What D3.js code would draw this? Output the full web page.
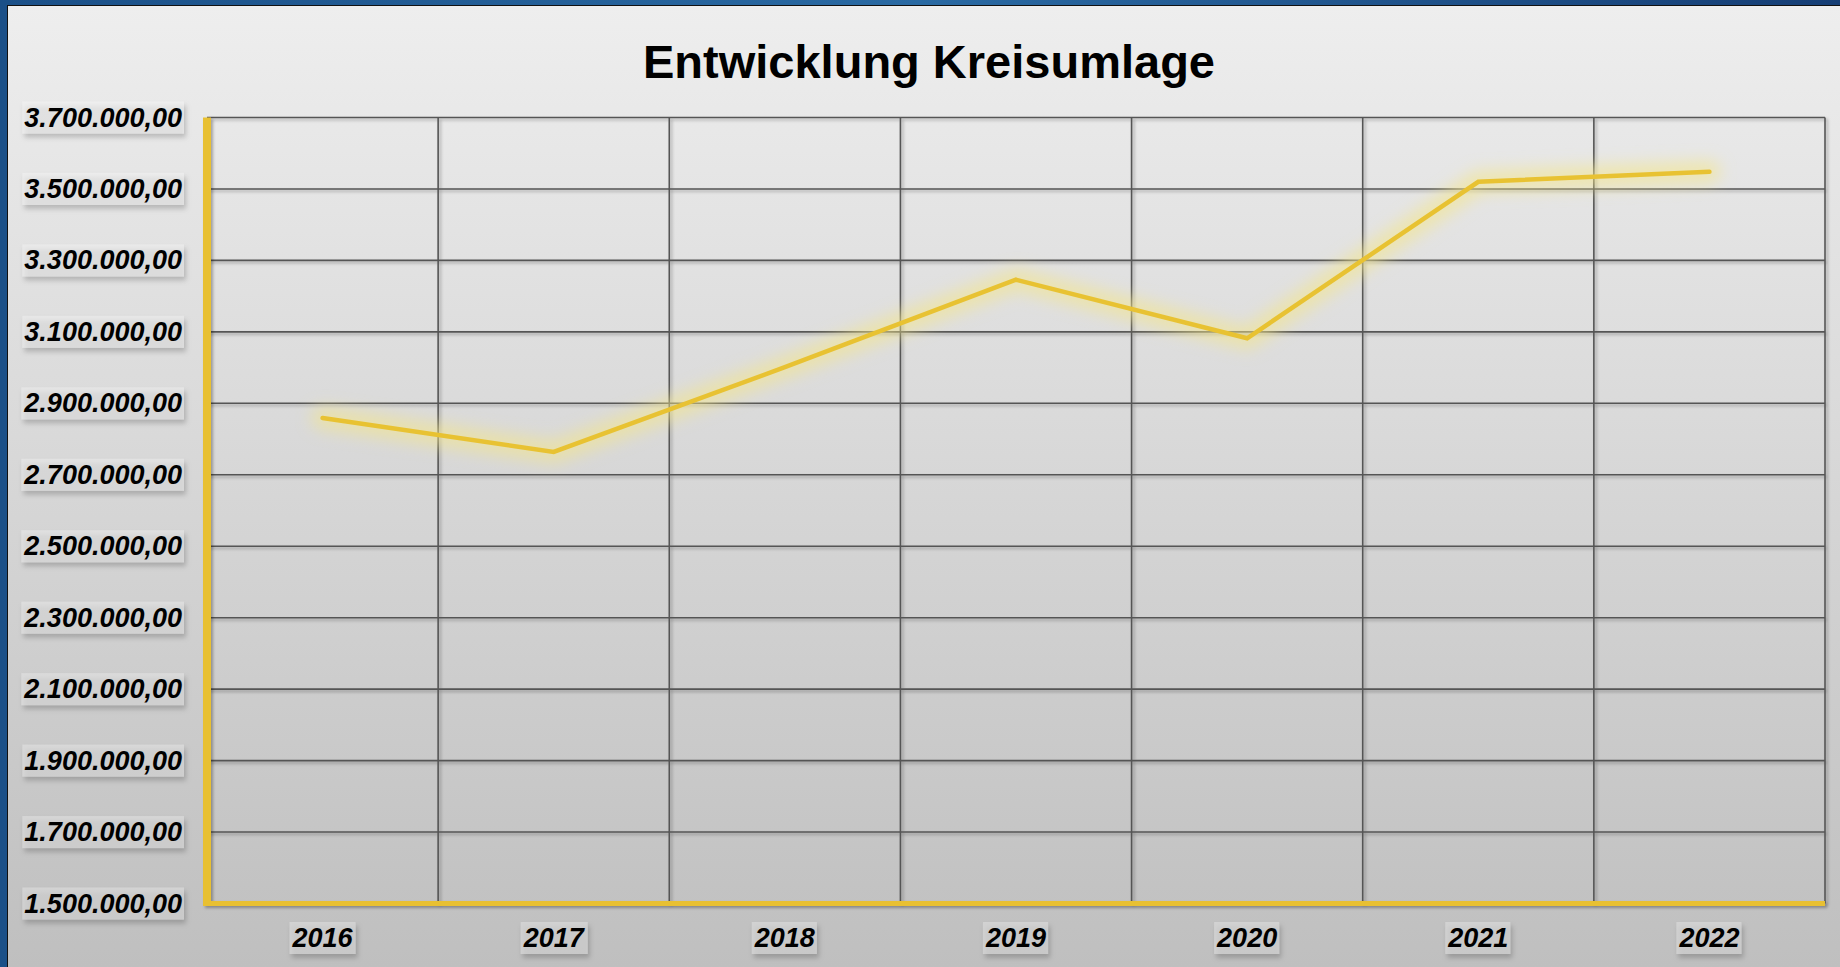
<!DOCTYPE html>
<html>
<head>
<meta charset="utf-8">
<script src="https://cdn.jsdelivr.net/npm/d3@7"></script>
<style>
  html, body { margin: 0; padding: 0; background: #1d5590; }
  svg { display: block; }
</style>
</head>
<body>
<div id="chart"></div>
<script>
// data
const years = ["2016", "2017", "2018", "2019", "2020", "2021", "2022"];
const kreisumlage = [2859000, 2764000, 3001000, 3246000, 3082000, 3520000, 3548000];
const yTicks = [1500000, 1700000, 1900000, 2100000, 2300000, 2500000, 2700000, 2900000, 3100000, 3300000, 3500000, 3700000];
const title = "Entwicklung Kreisumlage";

const width = 1840;
const height = 967;
const plot = { left: 207, right: 1825, top: 117.5, bottom: 903.5 };

const de = d3.formatLocale({ decimal: ",", thousands: ".", grouping: [3], currency: ["", " €"] });
const fmt = de.format(",.2f");

const svg = d3.select("#chart").append("svg")
  .attr("width", width)
  .attr("height", height);

const defs = svg.append("defs");

// frame gradient
const frameGrad = defs.append("linearGradient").attr("id", "frameGrad")
  .attr("x1", 0).attr("x2", 1).attr("y1", 0).attr("y2", 0);
frameGrad.append("stop").attr("offset", "0%").attr("stop-color", "#1b5088");
frameGrad.append("stop").attr("offset", "50%").attr("stop-color", "#2a6aa3");
frameGrad.append("stop").attr("offset", "100%").attr("stop-color", "#163e75");

const bgGrad = defs.append("linearGradient").attr("id", "bgGrad")
  .attr("x1", 0).attr("x2", 0).attr("y1", 0).attr("y2", 1);
bgGrad.append("stop").attr("offset", "0%").attr("stop-color", "#eeeeee");
bgGrad.append("stop").attr("offset", "100%").attr("stop-color", "#bfbfbf");

const shadow = defs.append("filter").attr("id", "shadow")
  .attr("x", "-20%").attr("y", "-40%").attr("width", "150%").attr("height", "200%");
shadow.append("feDropShadow")
  .attr("dx", 2).attr("dy", 4).attr("stdDeviation", 2.5)
  .attr("flood-color", "#000").attr("flood-opacity", 0.7);

const lineShadow = defs.append("filter").attr("id", "lineShadow")
  .attr("x", "-5%").attr("y", "-5%").attr("width", "110%").attr("height", "110%");
lineShadow.append("feDropShadow")
  .attr("dx", 2).attr("dy", 2).attr("stdDeviation", 1.5)
  .attr("flood-color", "#000").attr("flood-opacity", 0.3);

const glow = defs.append("filter").attr("id", "glow")
  .attr("x", "-10%").attr("y", "-30%").attr("width", "120%").attr("height", "160%");
glow.append("feGaussianBlur").attr("stdDeviation", 8);

// frame + panel
svg.append("rect").attr("width", width).attr("height", height).attr("fill", "url(#frameGrad)");
svg.append("rect").attr("x", 7).attr("y", 5).attr("width", width - 7).attr("height", height - 5)
  .attr("fill", "#111");
svg.append("rect").attr("x", 8).attr("y", 6).attr("width", width - 8).attr("height", height - 6)
  .attr("fill", "url(#bgGrad)");

// scales
const x = d3.scaleBand()
  .domain(years)
  .range([plot.left, plot.right])
  .padding(0);

const y = d3.scaleLinear()
  .domain([1500000, 3700000])
  .range([plot.bottom, plot.top]);

// grid
const grid = svg.append("g").attr("filter", "url(#lineShadow)");
grid.selectAll("line.h")
  .data(yTicks.slice(1))
  .enter()
  .append("line")
  .attr("class", "h")
  .attr("x1", plot.left)
  .attr("x2", plot.right)
  .attr("y1", d => y(d))
  .attr("y2", d => y(d))
  .attr("stroke", "#555")
  .attr("stroke-width", 1.6);

grid.selectAll("line.v")
  .data(years)
  .enter()
  .append("line")
  .attr("class", "v")
  .attr("x1", d => x(d) + x.bandwidth())
  .attr("x2", d => x(d) + x.bandwidth())
  .attr("y1", plot.top)
  .attr("y2", plot.bottom)
  .attr("stroke", "#555")
  .attr("stroke-width", 1.6);

// yellow axes
const axes = svg.append("g").attr("filter", "url(#lineShadow)");
axes.append("line")
  .attr("x1", plot.left - 3).attr("x2", plot.right)
  .attr("y1", y(1500000)).attr("y2", y(1500000))
  .attr("stroke", "#e8c030").attr("stroke-width", 5);
axes.append("line")
  .attr("x1", plot.left).attr("x2", plot.left)
  .attr("y1", plot.top).attr("y2", y(1500000) + 2.5)
  .attr("stroke", "#e8c030").attr("stroke-width", 8);

// the line with glow
const line = d3.line()
  .x((d, i) => x(years[i]) + x.bandwidth() / 2)
  .y(d => y(d));

svg.append("path")
  .datum(kreisumlage)
  .attr("d", line)
  .attr("fill", "none")
  .attr("stroke", "#f4e68a")
  .attr("stroke-opacity", 0.6)
  .attr("stroke-width", 22)
  .attr("stroke-linejoin", "round")
  .attr("stroke-linecap", "round")
  .attr("filter", "url(#glow)");

svg.append("path")
  .datum(kreisumlage)
  .attr("d", line)
  .attr("fill", "none")
  .attr("stroke", "#e8c232")
  .attr("stroke-width", 4.5)
  .attr("stroke-linejoin", "miter")
  .attr("stroke-linecap", "round");

// label helper: text with a light box and drop shadow
function boxedLabel(g, txt, tx, ty, anchor) {
  const grp = g.append("g");
  const rect = grp.append("rect").attr("filter", "url(#shadow)");
  const t = grp.append("text")
    .attr("x", tx)
    .attr("y", ty)
    .attr("text-anchor", anchor)
    .attr("dominant-baseline", "central")
    .style("font-family", "'Liberation Sans', Arial, sans-serif")
    .style("font-weight", "bold")
    .style("font-style", "italic")
    .style("font-size", "27px")
    .attr("fill", "#000")
    .text(txt);
  const bb = t.node().getBBox();
  rect.attr("x", bb.x - 2)
    .attr("y", ty - 16)
    .attr("width", bb.width + 4)
    .attr("height", 32)
    .attr("fill", "#ffffff")
    .attr("fill-opacity", 0.28);
}

const yLabels = svg.append("g");
yTicks.forEach(v => boxedLabel(yLabels, fmt(v), 182, y(v), "end"));

const xLabels = svg.append("g");
years.forEach(yr => boxedLabel(xLabels, yr, x(yr) + x.bandwidth() / 2, 938, "middle"));

// title
svg.append("text")
  .attr("x", 929)
  .attr("y", 78)
  .attr("text-anchor", "middle")
  .style("font-family", "'Liberation Sans', Arial, sans-serif")
  .style("font-weight", "bold")
  .style("font-size", "47px")
  .attr("fill", "#000")
  .text(title);
</script>
</body>
</html>
